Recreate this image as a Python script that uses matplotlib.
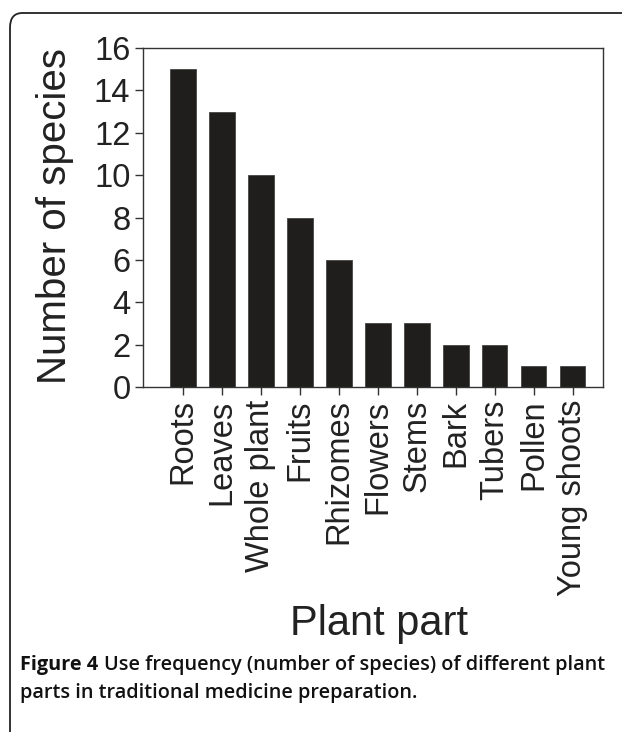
import matplotlib
matplotlib.use("Agg")
import matplotlib.pyplot as plt
from matplotlib.patches import FancyBboxPatch

categories = ["Roots", "Leaves", "Whole plant", "Fruits", "Rhizomes", "Flowers",
              "Stems", "Bark", "Tubers", "Pollen", "Young shoots"]
values = [15, 13, 10, 8, 6, 3, 3, 2, 2, 1, 1]
yticks = [0, 2, 4, 6, 8, 10, 12, 14, 16]

W, H = 622, 732
fig = plt.figure(figsize=(W / 100, H / 100), dpi=100)
fig.patch.set_facecolor("white")

# rounded frame
frame = FancyBboxPatch((10 / W, -0.2), 1.2, (H - 13) / H + 0.2,
                       boxstyle="round,pad=0,rounding_size=0.02",
                       transform=fig.transFigure, fill=False,
                       edgecolor="#222222", linewidth=1.3, clip_on=False)
fig.patches.append(frame)

SANS = ["Liberation Sans", "DejaVu Sans"]
ax = fig.add_axes([143 / W, 1 - 387 / H, (603 - 143) / W, (387 - 48) / H])
x = list(range(len(categories)))
ax.bar(x, values, width=0.66, color="#1f1e1c", edgecolor="#444444", linewidth=0.6)
ax.set_xlim(-1.02, 10.78)
ax.set_ylim(0, 16)
ax.set_yticks(yticks)
ax.set_yticklabels([str(t) for t in yticks])
ax.set_xticks(x)
ax.set_xticklabels(categories, rotation=90)
for s in ax.spines.values():
    s.set_color("#333333")
    s.set_linewidth(1.0)
ax.tick_params(axis="both", direction="out", length=6, width=1.0, color="#333333",
               labelcolor="#222222", labelsize=23.5, pad=3)
for lab in ax.get_xticklabels() + ax.get_yticklabels():
    lab.set_family(SANS)

fig.text(55 / W, 1 - 216 / H, "Number of species", rotation=90, ha="center", va="center",
         fontsize=29, color="#222222", family=SANS)
fig.text(379 / W, 1 - 624 / H, "Plant part", ha="center", va="center",
         fontsize=30, color="#222222", family=SANS)

CAP = ["Open Sans", "DejaVu Sans"]
fs = 14.3
t1 = fig.text(20 / W, 1 - 665 / H, "Figure 4", ha="left", va="center", fontsize=fs,
              fontweight="bold", color="#111111", family=CAP)
fig.canvas.draw()
bb = t1.get_window_extent(renderer=fig.canvas.get_renderer())
fig.text((bb.x1 + 6) / W, 1 - 665 / H, "Use frequency (number of species) of different plant",
         ha="left", va="center", fontsize=fs, fontweight="semibold", color="#111111",
         family=CAP)
fig.text(20 / W, 1 - 693 / H, "parts in traditional medicine preparation.",
         ha="left", va="center", fontsize=fs, fontweight="semibold", color="#111111",
         family=CAP)

fig.savefig("out.png", dpi=100)
